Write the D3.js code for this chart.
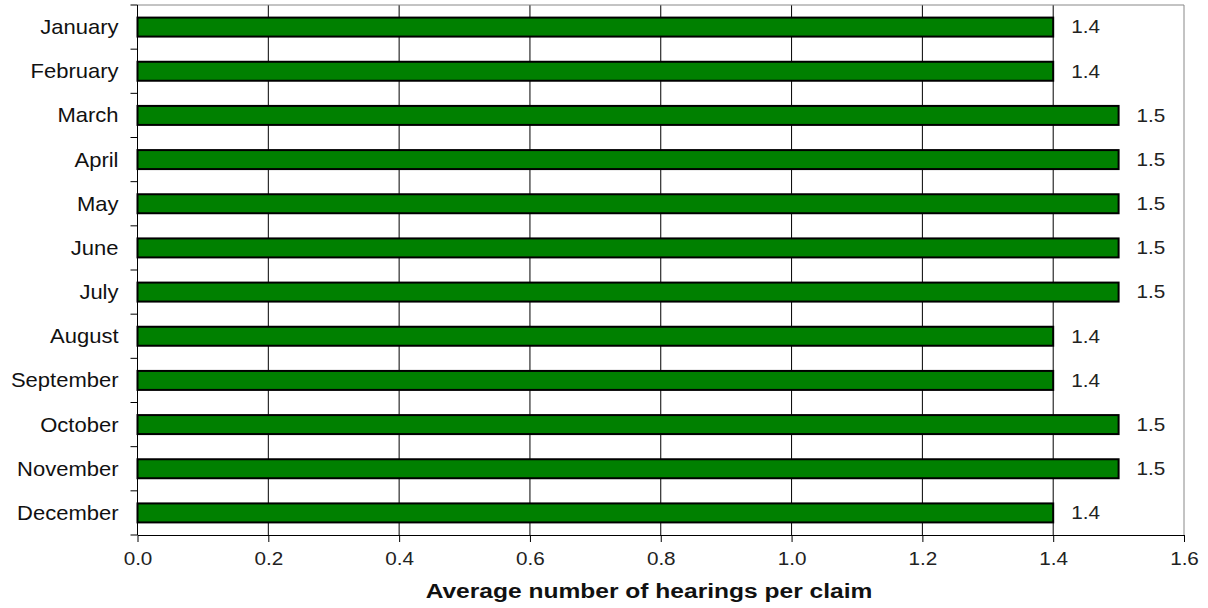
<!DOCTYPE html>
<html>
<head>
<meta charset="utf-8">
<script src="https://cdn.jsdelivr.net/npm/d3@7"></script>
<style>
  body { margin: 0; background: #fff; }
  text { font-family: "Liberation Sans", Arial, sans-serif; }
</style>
</head>
<body>
<svg id="chart" width="1208" height="608"></svg>
<script>
  var months = ['January', 'February', 'March', 'April', 'May', 'June', 'July',
    'August', 'September', 'October', 'November', 'December'];
  var hearings = [1.4, 1.4, 1.5, 1.5, 1.5, 1.5, 1.5, 1.4, 1.4, 1.5, 1.5, 1.4];
  var xTicks = [0, 0.2, 0.4, 0.6, 0.8, 1.0, 1.2, 1.4, 1.6];

  var margin = {top: 5, right: 24, bottom: 73, left: 137.5};
  var width = 1208 - margin.left - margin.right;
  var height = 608 - margin.top - margin.bottom;

  var svg = d3.select('#chart');
  var g = svg.append('g')
    .attr('transform', 'translate(' + margin.left + ',' + margin.top + ')');

  var x = d3.scaleLinear().domain([0, 1.6]).range([0, width]);
  var y = d3.scaleBand().domain(months).range([0, height]).paddingInner(0.57).paddingOuter(0.285);

  // text in the source is a little wider than Arial, stretch it
  function place(sel, px, py, sx) {
    sel.attr('x', null).attr('y', null)
      .attr('transform', function(d, i) {
        return 'translate(' + px(d, i) + ',' + py(d, i) + ') scale(' + sx + ',1)';
      });
  }

  // grid lines
  g.append('g').selectAll('line')
    .data(xTicks.slice(1, -1))
    .enter().append('line')
    .attr('x1', function(d) { return x(d); })
    .attr('x2', function(d) { return x(d); })
    .attr('y1', 0).attr('y2', height)
    .attr('stroke', '#000').attr('stroke-width', 1);

  // frame top/right
  g.append('path')
    .attr('d', 'M0,0H' + width + 'V' + height)
    .attr('fill', 'none').attr('stroke', '#888').attr('stroke-width', 1);

  // bars
  g.append('g').selectAll('rect')
    .data(hearings)
    .enter().append('rect')
    .attr('x', x(0))
    .attr('y', function(d, i) { return y(months[i]); })
    .attr('width', function(d) { return x(d) - x(0); })
    .attr('height', y.bandwidth())
    .attr('fill', '#008000')
    .attr('stroke', '#000')
    .attr('stroke-width', 2);

  // value labels
  g.append('g').selectAll('text')
    .data(hearings)
    .enter().append('text')
    .attr('dy', '0.35em')
    .attr('font-size', 18)
    .attr('fill', '#222')
    .text(function(d) { return d3.format('.1f')(d); })
    .call(place,
      function(d) { return x(d) + 18; },
      function(d, i) { return y(months[i]) + y.bandwidth() / 2; }, 1.15);

  // x axis
  var xAxis = g.append('g')
    .attr('transform', 'translate(0,' + height + ')')
    .call(d3.axisBottom(x).tickValues(xTicks).tickFormat(d3.format('.1f')).tickSize(7).tickSizeOuter(0).tickPadding(6));
  xAxis.select('.domain').attr('stroke', '#000');
  xAxis.selectAll('.tick text')
    .attr('font-size', 18).attr('fill', '#222')
    .attr('dy', null)
    .style('font-family', '"Liberation Sans", Arial, sans-serif')
    .call(place, function() { return 0; }, function() { return 30; }, 1.15);

  // y axis with ticks at category boundaries
  var yAxis = g.append('g');
  yAxis.append('line')
    .attr('x1', 0).attr('x2', 0).attr('y1', 0).attr('y2', height)
    .attr('stroke', '#000');
  yAxis.selectAll('line.tick')
    .data(d3.range(months.length + 1))
    .enter().append('line')
    .attr('class', 'tick')
    .attr('x1', -7).attr('x2', 0)
    .attr('y1', function(i) { return i * y.step(); })
    .attr('y2', function(i) { return i * y.step(); })
    .attr('stroke', '#000');
  yAxis.selectAll('text')
    .data(months)
    .enter().append('text')
    .attr('dy', '0.35em')
    .attr('text-anchor', 'end')
    .attr('font-size', 20)
    .attr('fill', '#111')
    .text(function(d) { return d; })
    .call(place,
      function() { return -19; },
      function(d) { return y(d) + y.bandwidth() / 2; }, 1.1);

  // axis title
  svg.append('text')
    .attr('text-anchor', 'middle')
    .attr('font-size', 21)
    .attr('font-weight', 'bold')
    .attr('fill', '#111')
    .text('Average number of hearings per claim')
    .call(place, function() { return 649; }, function() { return 598; }, 1.17);
</script>
</body>
</html>
